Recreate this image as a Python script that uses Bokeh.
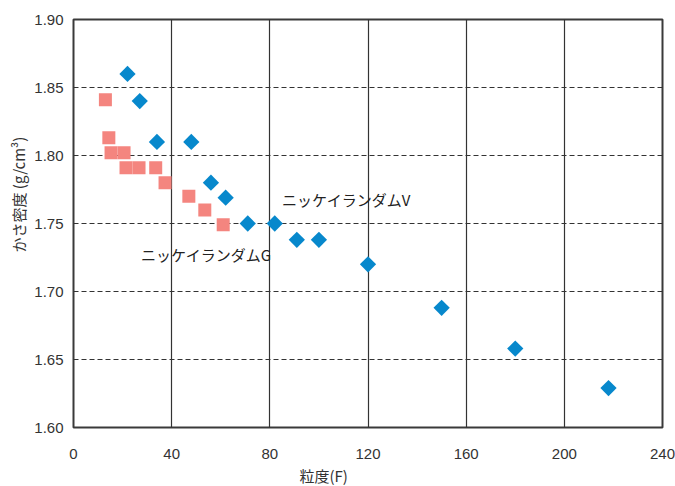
from bokeh.plotting import figure
from bokeh.models import FixedTicker, Range1d, CustomJSTickFormatter, Title
from bokeh.core.properties import value
from bokeh.embed import file_html
from bokeh.resources import INLINE

# ニッケイランダムV (blue diamonds)
v_size = [22, 27, 34, 48, 56, 62, 71, 82, 91, 100, 120, 150, 180, 218]
v_density = [1.860, 1.840, 1.810, 1.810, 1.780, 1.769, 1.750, 1.750, 1.738, 1.738, 1.720, 1.688, 1.658, 1.629]

# ニッケイランダムG (pink squares)
g_size = [13, 14.4, 15.3, 20.6, 21.4, 26.7, 33.5, 37.3, 47, 53.5, 61]
g_density = [1.841, 1.813, 1.802, 1.802, 1.791, 1.791, 1.791, 1.780, 1.770, 1.760, 1.749]

x_ticks = [0, 40, 80, 120, 160, 200, 240]
y_ticks = [1.60, 1.65, 1.70, 1.75, 1.80, 1.85, 1.90]

series_names = ["ニッケイランダムV", "ニッケイランダムG"]
label_x = [85, 27.5]
label_y = [1.768, 1.727]

x_title = "粒度(F)"
y_title = "かさ密度 (g/cm³)"

p = figure(width=675, height=486, output_backend="svg", toolbar_location=None,
           x_range=Range1d(0, 240), y_range=Range1d(1.60, 1.90),
           min_border_left=73, min_border_right=13, min_border_top=19, min_border_bottom=59)

p.outline_line_color = "#3a3a3a"
p.outline_line_width = 2
p.background_fill_color = "white"
p.border_fill_color = "white"

p.xaxis.ticker = FixedTicker(ticks=x_ticks)
p.yaxis.ticker = FixedTicker(ticks=y_ticks)
p.yaxis.formatter = CustomJSTickFormatter(code="return tick.toFixed(2);")

for ax in (p.xaxis, p.yaxis):
    ax.axis_line_color = None
    ax.major_tick_line_color = None
    ax.minor_tick_line_color = None
    ax.major_tick_out = 0
    ax.major_tick_in = 0
    ax.minor_tick_out = 0
    ax.minor_tick_in = 0
    ax.major_label_text_font = "Liberation Sans"
    ax.major_label_text_font_size = "15px"
    ax.major_label_text_color = "#333333"

p.xaxis.major_label_standoff = 21
p.yaxis.major_label_standoff = 10

p.xgrid.ticker = FixedTicker(ticks=x_ticks[1:-1])
p.ygrid.ticker = FixedTicker(ticks=y_ticks[1:-1])
p.xgrid.grid_line_color = "#333333"
p.xgrid.grid_line_width = 1.2
p.ygrid.grid_line_color = "#333333"
p.ygrid.grid_line_width = 1
p.ygrid.grid_line_dash = "5 3"

p.scatter(g_size, g_density, marker="square", size=13, fill_color="#F4857F", line_color=None)
p.scatter(v_size, v_density, marker="square", angle=0.7853981634, size=11.5,
          fill_color="#0788CC", line_color=None)

p.text(x=label_x, y=label_y, text=series_names, text_font=value("Noto Sans CJK JP"),
       text_font_size="15px", text_color="#222222", text_align="left", text_baseline="middle")

# axis titles (offset from the frame centre as in the original)
p.add_layout(Title(text=x_title, align="left", offset=226, standoff=2,
                   text_font="Noto Sans CJK JP", text_font_size="15px",
                   text_font_style="normal", text_color="#333333"), "below")
p.add_layout(Title(text=y_title, align="left", offset=175, standoff=6,
                   text_font="Noto Sans CJK JP", text_font_size="15px",
                   text_font_style="normal", text_color="#333333"), "left")

open("out.html", "w").write(file_html(p, INLINE))
